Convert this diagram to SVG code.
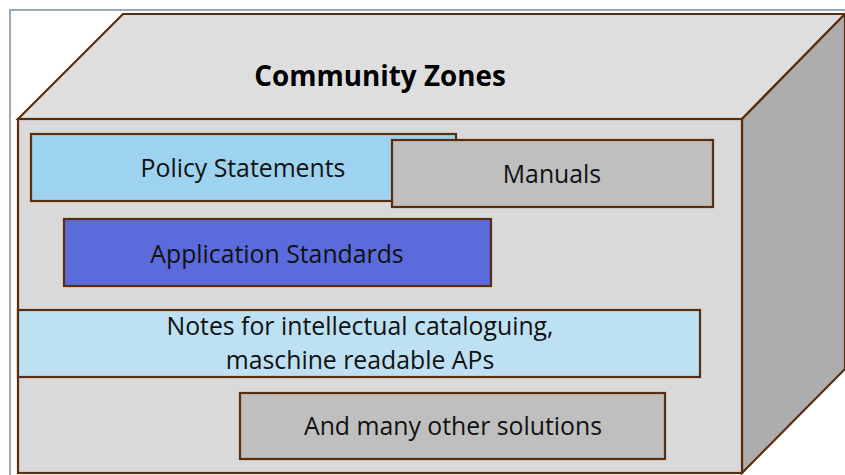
<svg xmlns="http://www.w3.org/2000/svg" width="845" height="475" viewBox="0 0 845 475">
<style>
.edge{stroke:#5a2d0c;stroke-width:2.2;stroke-linejoin:miter}
.lbl{font-family:"Open Sans","Noto Sans","Liberation Sans",sans-serif;font-size:24.8px;fill:#111;text-anchor:middle}
.title{font-family:"Open Sans","Noto Sans","Liberation Sans",sans-serif;font-size:27.8px;font-weight:bold;fill:#000;text-anchor:middle}
</style>
<rect x="0" y="0" width="845" height="475" fill="#ffffff"/>
<rect x="10" y="10" width="850" height="480" fill="none" stroke="#9aa9ba" stroke-width="2"/>
<g id="cube">
<polygon class="edge" points="18,119 123,14 845,14 742,119" fill="#dedede"/>
<polygon class="edge" points="742,119 845,14 845,369 742,473" fill="#adadad"/>
<rect class="edge" x="18" y="119" width="724" height="354" fill="#d9d9d9"/>
<text class="title" x="380" y="86">Community Zones</text>
</g>
<g id="policy">
<rect class="edge" x="31" y="134" width="425" height="67" fill="#9dd3ee"/>
<text class="lbl" x="243" y="177">Policy Statements</text>
</g>
<g id="manuals">
<rect class="edge" x="392" y="140" width="321" height="67" fill="#bfbfbf"/>
<text class="lbl" x="552" y="183">Manuals</text>
</g>
<g id="appstd">
<rect class="edge" x="64" y="219" width="427" height="67" fill="#5b6bdc"/>
<text class="lbl" x="277" y="263">Application Standards</text>
</g>
<g id="notes">
<rect class="edge" x="18" y="310" width="682" height="67" fill="#bde0f3"/>
<text class="lbl" x="360" y="335">Notes for intellectual cataloguing,</text>
<text class="lbl" x="360" y="369">maschine readable APs</text>
</g>
<g id="other">
<rect class="edge" x="240" y="393" width="425" height="66" fill="#bfbfbf"/>
<text class="lbl" x="453" y="435">And many other solutions</text>
</g>
<g id="connectors"/>
</svg>
